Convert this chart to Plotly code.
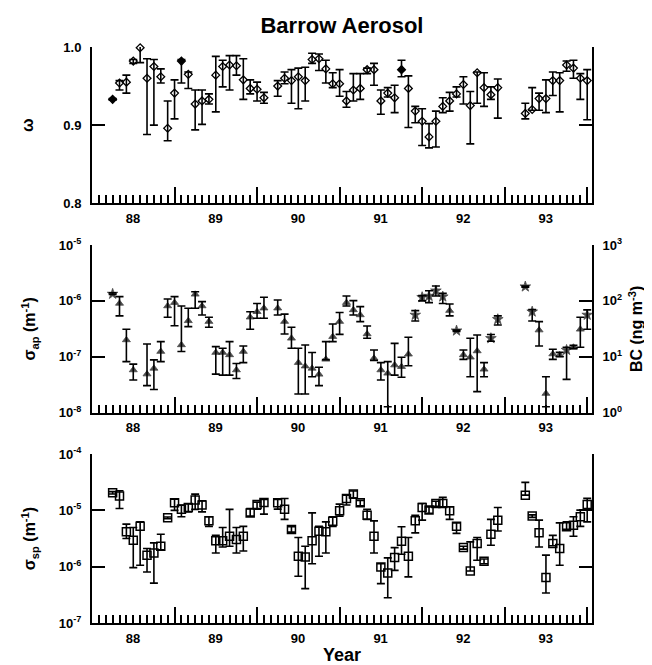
import plotly.graph_objects as go

FONT = "Arial, 'Liberation Sans', sans-serif"

# ---------------- data ----------------
# month index counted from Jan 1988 (0 = 1988.0)
top_months = [3, 4, 5, 6, 7, 8, 9, 10, 11, 12, 13, 14, 15, 16, 17, 18, 19, 20, 21, 22, 23, 24, 25,
              27, 28, 29, 30, 31, 32, 33, 34, 35, 36, 37, 38, 39, 40, 41, 42, 43, 44, 45, 46, 47, 48,
              49, 50, 51, 52, 53, 54, 55, 56, 57, 58, 59, 63, 64, 65, 66, 67, 68, 69, 70, 71, 72]
top_omega = [0.933, 0.954, 0.955, 0.982, 0.999, 0.960, 0.975, 0.962, 0.896, 0.941, 0.982, 0.965, 0.927,
             0.931, 0.933, 0.964, 0.975, 0.977, 0.976, 0.958, 0.947, 0.946, 0.935,
             0.950, 0.960, 0.957, 0.962, 0.957, 0.984, 0.985, 0.972, 0.953, 0.953, 0.931, 0.945, 0.947,
             0.971, 0.971, 0.931, 0.941, 0.935, 0.971, 0.947, 0.918, 0.905, 0.885, 0.905, 0.924, 0.931,
             0.940, 0.952, 0.925, 0.967, 0.948, 0.939, 0.948,
             0.915, 0.920, 0.934, 0.934, 0.957, 0.957, 0.977, 0.973, 0.960, 0.957]
top_hi = [0.934, 0.957, 0.964, 0.984, 1.009, 0.985, 0.984, 0.972, 0.931, 0.958, 0.984, 0.968, 0.945,
          0.945, 0.940, 0.988, 0.983, 0.989, 0.989, 0.985, 0.958, 0.955, 0.942,
          0.957, 0.968, 0.971, 0.973, 0.974, 0.992, 0.991, 0.983, 0.967, 0.971, 0.943, 0.966, 0.966,
          0.973, 0.979, 0.945, 0.948, 0.951, 0.983, 0.963, 0.924, 0.921, 0.902, 0.918, 0.935, 0.942,
          0.949, 0.962, 0.943, 0.968, 0.967, 0.949, 0.959,
          0.928, 0.948, 0.941, 0.958, 0.968, 0.967, 0.982, 0.983, 0.966, 0.971]
top_lo = [0.932, 0.945, 0.941, 0.979, 0.980, 0.888, 0.900, 0.954, 0.880, 0.908, 0.954, 0.947, 0.894,
          0.901, 0.927, 0.917, 0.949, 0.945, 0.964, 0.933, 0.940, 0.931, 0.928,
          0.937, 0.953, 0.928, 0.921, 0.931, 0.979, 0.970, 0.954, 0.948, 0.937, 0.923, 0.931, 0.933,
          0.966, 0.951, 0.914, 0.936, 0.916, 0.962, 0.897, 0.903, 0.874, 0.871, 0.872, 0.916, 0.918,
          0.936, 0.927, 0.876, 0.928, 0.924, 0.933, 0.909,
          0.908, 0.919, 0.919, 0.916, 0.938, 0.917, 0.969, 0.960, 0.933, 0.907]
top_filled = [3, 13, 45]

mid_months = [3, 4, 5, 6, 8, 9, 10, 11, 12, 13, 14, 15, 16, 17, 18, 19, 20, 21, 22, 23, 24, 25,
              27, 28, 29, 30, 31, 32, 33, 34, 35, 36, 37, 38, 39, 40, 41, 42, 43, 44, 45, 46, 47, 48,
              49, 50, 51, 52, 53, 54, 55, 56, 57, 58, 59, 63, 64, 65, 66, 67, 68, 69, 70, 71, 72]
mid_sigma_ap = [1.33e-6, 9.0e-7, 2.0e-7, 5.8e-8, 4.9e-8, 6.2e-8, 1.24e-7, 8.1e-7, 9.3e-7, 1.63e-7,
                4.4e-7, 1.31e-6, 8.1e-7, 4.26e-7, 1.19e-7, 1.19e-7, 1.08e-7, 5.8e-8, 1.24e-7, 5.1e-7,
                6.4e-7, 7.4e-7,
                7.4e-7, 4.26e-7, 2.14e-7, 7.85e-8, 6.8e-8, 6.2e-8, 4.85e-8, 9.0e-8, 2.29e-7, 4.26e-7,
                9.3e-7, 6.9e-7, 5.6e-7, 2.56e-7, 9.4e-8, 5.8e-8, 5.06e-8, 7.1e-8, 6.65e-8, 1.11e-7,
                5.6e-7, 1.16e-6, 1.22e-6, 1.52e-6, 1.19e-6, 6.7e-7, 2.93e-7, 1.08e-7, 9.8e-8, 1.27e-7,
                5.97e-8, 2.14e-7, 4.68e-7,
                1.8e-6, 6.4e-7, 3.0e-7, 2.2e-8, 1.12e-7, 1.08e-7, 1.32e-7, 1.48e-7, 3.1e-7, 5.6e-7]
mid_hi = [1.4e-6, 1.19e-6, 3.1e-7, 7.4e-8, 1.69e-7, 8.8e-8, 1.87e-7, 1.08e-6, 1.19e-6, 8.1e-7,
          7.4e-7, 1.46e-6, 9.7e-7, 5.1e-7, 1.52e-7, 1.42e-7, 1.87e-7, 7.6e-8, 1.56e-7, 6.4e-7,
          9.0e-7, 1.16e-6,
          1.04e-6, 5.8e-7, 3.37e-7, 1.42e-7, 1.63e-7, 1.19e-7, 6.5e-8, 1.87e-7, 3.86e-7, 6.2e-7,
          1.22e-6, 1.01e-6, 7.9e-7, 3.56e-7, 1.32e-7, 7.85e-8, 8.2e-8, 1.74e-7, 9.8e-8, 2.23e-7,
          6.7e-7, 1.24e-6, 1.52e-6, 1.85e-6, 1.36e-6, 8.8e-7, 3.0e-7, 1.32e-7, 2.14e-7, 2.45e-7,
          7.85e-8, 2.5e-7, 5.4e-7,
          1.85e-6, 7.0e-7, 4.26e-7, 4.4e-8, 1.36e-7, 1.2e-7, 1.48e-7, 1.6e-7, 5.1e-7, 6.9e-7]
mid_lo = [1.3e-6, 5.4e-7, 8.2e-8, 3.85e-8, 3.05e-8, 2.6e-8, 8.2e-8, 5.1e-7, 3.6e-7, 1.24e-7,
          3.46e-7, 7.4e-7, 5.6e-7, 3.37e-7, 4.9e-8, 4.7e-8, 4.7e-8, 4.1e-8, 7.85e-8, 3.1e-7,
          4.9e-7, 4.9e-7,
          5.6e-7, 2.56e-7, 1.42e-7, 2.16e-8, 2.16e-8, 4.4e-8, 3.05e-8, 8.9e-8, 1.87e-7, 2.52e-7,
          8.1e-7, 5.6e-7, 4.26e-7, 2.14e-7, 8.6e-8, 3.85e-8, 1.28e-8, 4.7e-8, 4.3e-8, 6.9e-8,
          4.36e-7, 1.0e-6, 9.3e-7, 1.22e-6, 9.0e-7, 5.4e-7, 2.85e-7, 9.0e-8, 4.4e-8, 2.38e-8,
          4.4e-8, 1.9e-7, 3.7e-7,
          1.75e-6, 4.36e-7, 1.56e-7, 1.28e-8, 9.0e-8, 1.0e-7, 3.95e-8, 1.4e-7, 1.48e-7, 3.1e-7]
mid_star = [3, 47, 48, 49, 50, 51, 53, 58, 59, 63, 64, 69, 72]

bot_months = [3, 4, 5, 6, 7, 8, 9, 10, 11, 12, 13, 14, 15, 16, 17, 18, 19, 20, 21, 22, 23, 24, 25,
              27, 28, 29, 30, 31, 32, 33, 34, 35, 36, 37, 38, 39, 40, 41, 42, 43, 44, 45, 46, 47, 48,
              49, 50, 51, 52, 53, 54, 55, 56, 57, 58, 59, 63, 64, 65, 66, 67, 68, 69, 70, 71, 72]
bot_sigma_sp = [2.05e-5, 1.79e-5, 4.15e-6, 2.95e-6, 5.2e-6, 1.6e-6, 1.75e-6, 2.3e-6, 7.36e-6, 1.36e-5,
                1.04e-5, 1.12e-5, 1.52e-5, 1.24e-5, 6.5e-6, 2.87e-6, 2.87e-6, 3.47e-6, 3.03e-6, 3.47e-6,
                9.0e-6, 1.27e-5, 1.38e-5,
                1.36e-5, 1.04e-5, 4.57e-6, 1.53e-6, 1.49e-6, 2.87e-6, 4.26e-6, 4.15e-6, 6.4e-6, 9.8e-6,
                1.63e-5, 1.94e-5, 1.36e-5, 8.2e-6, 3.47e-6, 9.9e-7, 7.7e-7, 1.45e-6, 2.83e-6, 1.53e-6,
                6.5e-6, 1.12e-5, 1.01e-5, 1.32e-5, 1.32e-5, 9.8e-6, 5.2e-6, 2.18e-6, 8.4e-7, 2.57e-6,
                1.25e-6, 3.77e-6, 6.7e-6,
                1.86e-5, 7.9e-6, 3.98e-6, 6.4e-7, 2.57e-6, 2.1e-6, 5.1e-6, 5.45e-6, 7.7e-6, 1.27e-5]
bot_hi = [2.15e-5, 2.23e-5, 5.7e-6, 4.95e-6, 6.25e-6, 2.1e-6, 2.64e-6, 3.77e-6, 7.6e-6, 1.58e-5,
          1.24e-5, 1.3e-5, 1.94e-5, 1.48e-5, 7.7e-6, 3.6e-6, 4.95e-6, 1.04e-5, 4.95e-6, 5.2e-6,
          1.08e-5, 1.4e-5, 1.56e-5,
          1.56e-5, 1.62e-5, 5.1e-6, 3.29e-6, 2.3e-6, 9.0e-6, 5.2e-6, 6.25e-6, 7.7e-6, 1.29e-5,
          1.86e-5, 2.2e-5, 1.5e-5, 1.04e-5, 6.5e-6, 1.13e-6, 1.43e-6, 2.18e-6, 5.1e-6, 3.29e-6,
          8.2e-6, 1.32e-5, 1.15e-5, 1.45e-5, 1.7e-5, 1.16e-5, 6.0e-6, 2.3e-6, 2.75e-6, 3.29e-6,
          1.37e-6, 6.9e-6, 1.12e-5,
          3.13e-5, 8.3e-6, 6.7e-6, 1.6e-6, 3.6e-6, 6.0e-6, 6.25e-6, 7.7e-6, 1.01e-5, 1.63e-5]
bot_lo = [1.95e-5, 1.08e-5, 3.16e-6, 9.6e-7, 1.06e-6, 8.05e-7, 5.1e-7, 2.0e-6, 7.1e-6, 1.0e-5,
          7.7e-6, 9.4e-6, 1.04e-5, 9.4e-6, 5.2e-6, 1.75e-6, 2.24e-6, 2.3e-6, 1.75e-6, 1.9e-6,
          7.9e-6, 1.05e-5, 8.55e-6,
          1.05e-5, 6.9e-6, 4.1e-6, 6.75e-7, 4.07e-7, 1.13e-6, 1.53e-6, 1.75e-6, 5.2e-6, 7.9e-6,
          1.24e-5, 1.65e-5, 1.2e-5, 6.9e-6, 1.75e-6, 5.0e-7, 2.8e-7, 8.6e-7, 1.66e-6, 6.6e-7,
          3.98e-6, 6.7e-6, 8.9e-6, 1.18e-5, 1.15e-5, 6.9e-6, 3.9e-6, 2.05e-6, 8.4e-7, 1.3e-6,
          1.13e-6, 2.4e-6, 4.3e-6,
          1.86e-5, 7.5e-6, 2.24e-6, 3.4e-7, 2.35e-6, 1.06e-6, 4.6e-6, 3.47e-6, 5.2e-6, 6.25e-6]

# year boundaries carry the tall ticks; labels sit mid-year (shifted half a year)
year_bounds = [1988, 1989, 1990, 1991, 1992, 1993, 1994]
year_labels = ["88", "89", "90", "91", "92", "93", ""]

omega_ticks = [0.8, 0.9, 1.0]
omega_ticktext = ["0.8", "0.9", "1.0"]
ap_ticks = [1e-8, 1e-7, 1e-6, 1e-5]
ap_ticktext = ["10<sup>-8</sup>", "10<sup>-7</sup>", "10<sup>-6</sup>", "10<sup>-5</sup>"]
bc_ticks = [1, 10, 100, 1000]
bc_ticktext = ["10<sup>0</sup>", "10<sup>1</sup>", "10<sup>2</sup>", "10<sup>3</sup>"]
sp_ticks = [1e-7, 1e-6, 1e-5, 1e-4]
sp_ticktext = ["10<sup>-7</sup>", "10<sup>-6</sup>", "10<sup>-5</sup>", "10<sup>-4</sup>"]
BC_PER_SIGMA = 1e8  # right-hand BC scale (ng m^-3) equivalent to sigma_ap (m^-1)


def to_year(months):
    return [1988 + m / 12.0 for m in months]


def err_args(vals, hi, lo):
    return dict(type="data", symmetric=False,
                array=[h - v for v, h in zip(vals, hi)],
                arrayminus=[v - l for v, l in zip(vals, lo)],
                color="black", thickness=1.6, width=4)


fig = go.Figure()

fig.add_trace(go.Scatter(
    x=to_year(top_months), y=top_omega, mode="markers", xaxis="x", yaxis="y",
    marker=dict(symbol=["diamond" if m in top_filled else "diamond-open" for m in top_months],
                size=6, color="black", line=dict(color="black", width=1.3)),
    error_y=err_args(top_omega, top_hi, top_lo), cliponaxis=False, hoverinfo="x+y"))

fig.add_trace(go.Scatter(
    x=to_year(mid_months), y=mid_sigma_ap, mode="markers", xaxis="x2", yaxis="y2",
    marker=dict(symbol=["star" if m in mid_star else "triangle-up" for m in mid_months],
                size=[8 if m in mid_star else 7 for m in mid_months], color="black",
                line=dict(color="black", width=0.8)),
    error_y=err_args(mid_sigma_ap, mid_hi, mid_lo), cliponaxis=False, hoverinfo="x+y"))

# same absorption data expressed as BC on the right-hand axis (transparent, carries that axis)
fig.add_trace(go.Scatter(
    x=to_year(mid_months), y=[s * BC_PER_SIGMA for s in mid_sigma_ap], mode="markers",
    xaxis="x2", yaxis="y4", marker=dict(size=7, color="rgba(0,0,0,0)"), hoverinfo="skip"))

fig.add_trace(go.Scatter(
    x=to_year(bot_months), y=bot_sigma_sp, mode="markers", xaxis="x3", yaxis="y3",
    marker=dict(symbol="square-open", size=8, color="black", line=dict(color="black", width=1.5)),
    error_y=err_args(bot_sigma_sp, bot_hi, bot_lo), cliponaxis=False, hoverinfo="x+y"))

TICKFONT = dict(family=FONT, size=13, color="black", weight="bold")
TITLEFONT = dict(family=FONT, size=16, color="black", weight="bold")
XRANGE = [1988.0, 1994.058]
HALF_YEAR_PX = 41

base_x = dict(range=XRANGE, showline=True, linewidth=2, linecolor="black",
              ticks="inside", ticklen=16, tickwidth=1.5, tickcolor="black",
              tickmode="array", tickvals=year_bounds, ticktext=year_labels,
              tickfont=TICKFONT, ticklabelshift=HALF_YEAR_PX, ticklabelstandoff=2,
              showgrid=False, zeroline=False, automargin=False,
              minor=dict(ticks="inside", ticklen=8, tickwidth=1.5, tickcolor="black",
                         tick0=1988, dtick=1 / 12, showgrid=False))

base_y = dict(showline=True, linewidth=2, linecolor="black", ticks="inside", ticklen=13,
              tickwidth=1.5, tickcolor="black", tickfont=TICKFONT, showgrid=False,
              zeroline=False, tickmode="array", ticklabelstandoff=6, automargin=False)

top_dom = [0.7286, 1.0]
mid_dom = [0.3651, 0.6563]
bot_dom = [0.0, 0.2934]

# the page adds an 8 px body margin, so the figure itself is 8 px smaller each way
W, H = 644, 657

fig.update_layout(
    width=W, height=H,
    margin=dict(l=84, r=60, t=39, b=42, autoexpand=False),
    paper_bgcolor="white", plot_bgcolor="white",
    showlegend=False,
    title=dict(text="Barrow Aerosol", x=0.5, xref="paper", xanchor="center",
               y=1 - 17 / H, yref="container", yanchor="middle",
               font=dict(family=FONT, size=22, color="black", weight="bold")),
    xaxis=dict(base_x, anchor="y"),
    xaxis2=dict(base_x, anchor="y2"),
    xaxis3=dict(base_x, anchor="y3",
                title=dict(text="Year", font=dict(family=FONT, size=18, color="black", weight="bold"),
                           standoff=4)),
    yaxis=dict(base_y, domain=top_dom, anchor="x", range=[0.8, 1.0],
               tickvals=omega_ticks, ticktext=omega_ticktext, mirror="ticks",
               title=dict(text="ω", font=TITLEFONT, standoff=26)),
    yaxis2=dict(base_y, domain=mid_dom, anchor="x2", type="log", range=[-8, -5],
                tickvals=ap_ticks, ticktext=ap_ticktext, mirror=False,
                title=dict(text="σ<sub>ap</sub> (m<sup>-1</sup>)", font=TITLEFONT, standoff=19)),
    yaxis4=dict(base_y, overlaying="y2", anchor="x2", side="right", type="log", range=[0, 3],
                tickvals=bc_ticks, ticktext=bc_ticktext,
                title=dict(text="BC (ng m<sup>-3</sup>)", font=TITLEFONT, standoff=10)),
    yaxis3=dict(base_y, domain=bot_dom, anchor="x3", type="log", range=[-7, -4],
                tickvals=sp_ticks, ticktext=sp_ticktext, mirror="ticks",
                title=dict(text="σ<sub>sp</sub> (m<sup>-1</sup>)", font=TITLEFONT, standoff=19)),
)

fig.write_html("out.html")
